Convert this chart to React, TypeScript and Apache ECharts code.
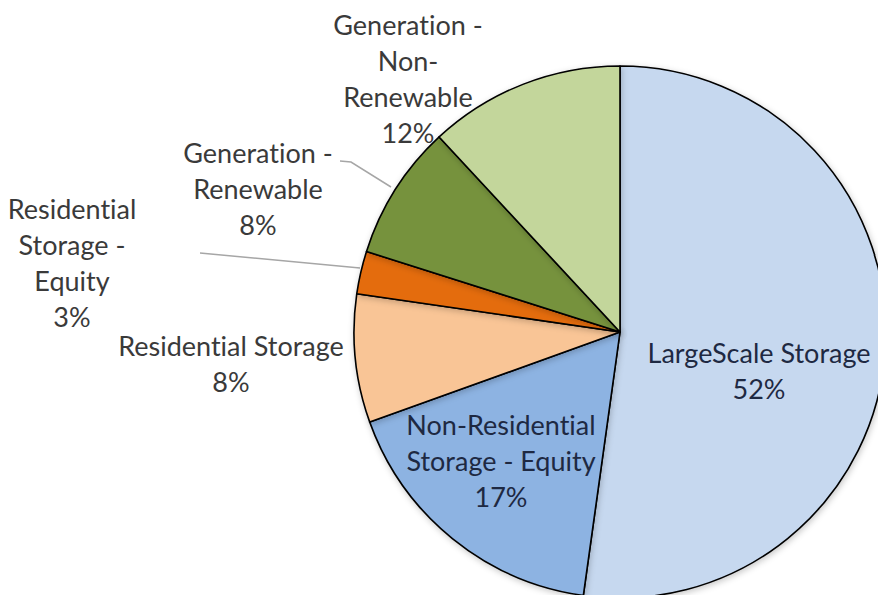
import React, { useEffect, useRef } from "react";
import * as echarts from "echarts";

// ---- data ----
const categories = [
  "LargeScale Storage",
  "Non-Residential Storage - Equity",
  "Residential Storage",
  "Residential Storage - Equity",
  "Generation - Renewable",
  "Generation - Non-Renewable",
];
const values = [52.2, 17.3, 7.8, 2.6, 8.2, 11.9];
const wrappedLabels = [
  "LargeScale Storage",
  "Non-Residential\nStorage - Equity",
  "Residential Storage",
  "Residential\nStorage -\nEquity",
  "Generation -\nRenewable",
  "Generation -\nNon-\nRenewable",
];

// ---- styles / layout ----
const colors = ["#C6D8EF", "#8DB3E2", "#F9C596", "#E46C0A", "#76923C", "#C3D69B"];
const insideLabel = [true, true, false, false, false, false];
const labelCenters: number[][] = [
  [759, 370],
  [501, 460],
  [231, 363],
  [72, 262],
  [258, 188],
  [408, 78],
];
const leaderLines: (number[][] | null)[] = [
  null,
  null,
  null,
  [[200, 253], [360, 268]],
  [[340, 161], [351, 162], [391, 187]],
  null,
];

export default function App() {
  const ref = useRef<HTMLDivElement>(null);
  useEffect(() => {
    if (!ref.current) return;
    const chart = echarts.init(ref.current, undefined, { renderer: "svg" });
    const data = categories.map((name, i) => ({
      name,
      value: values[i],
      itemStyle: { color: colors[i] },
      label: { color: insideLabel[i] ? "#1E2942" : "#3A3A3A" },
      labelLine: {
        show: !!leaderLines[i],
        lineStyle: { color: "#A6A6A6", width: 1.5 },
      },
    }));
    chart.setOption({
      animation: false,
      backgroundColor: "#ffffff",
      series: [
        {
          type: "pie",
          center: [620, 332],
          radius: 266,
          startAngle: 90,
          clockwise: true,
          avoidLabelOverlap: false,
          itemStyle: {
            borderColor: "#000000",
            borderWidth: 1.6,
            shadowBlur: 6,
            shadowColor: "rgba(0,0,0,0.22)",
            shadowOffsetX: 1,
            shadowOffsetY: 2,
          },
          label: {
            show: true,
            position: "outside",
            fontFamily: "Lato",
            fontSize: 27,
            lineHeight: 36,
            align: "center",
            formatter: (p: any) =>
              `${wrappedLabels[p.dataIndex]}\n${Math.round(p.percent)}%`,
          },
          labelLine: { show: true, length: 10, length2: 10 },
          labelLayout: (p: any) => {
            const i = p.dataIndex;
            const res: any = {
              x: labelCenters[i][0],
              y: labelCenters[i][1],
              align: "center",
              verticalAlign: "middle",
            };
            if (leaderLines[i]) res.labelLinePoints = leaderLines[i];
            return res;
          },
          emphasis: { disabled: true },
          data,
        },
      ],
    });
    return () => chart.dispose();
  }, []);
  return (
    <>
      <style>{`svg text { font-variant-ligatures: none !important; font-feature-settings: "liga" 0, "clig" 0 !important; }`}</style>
      <div
        ref={ref}
        style={{ position: "fixed", left: 0, top: 0, width: 878, height: 595 }}
      />
    </>
  );
}
